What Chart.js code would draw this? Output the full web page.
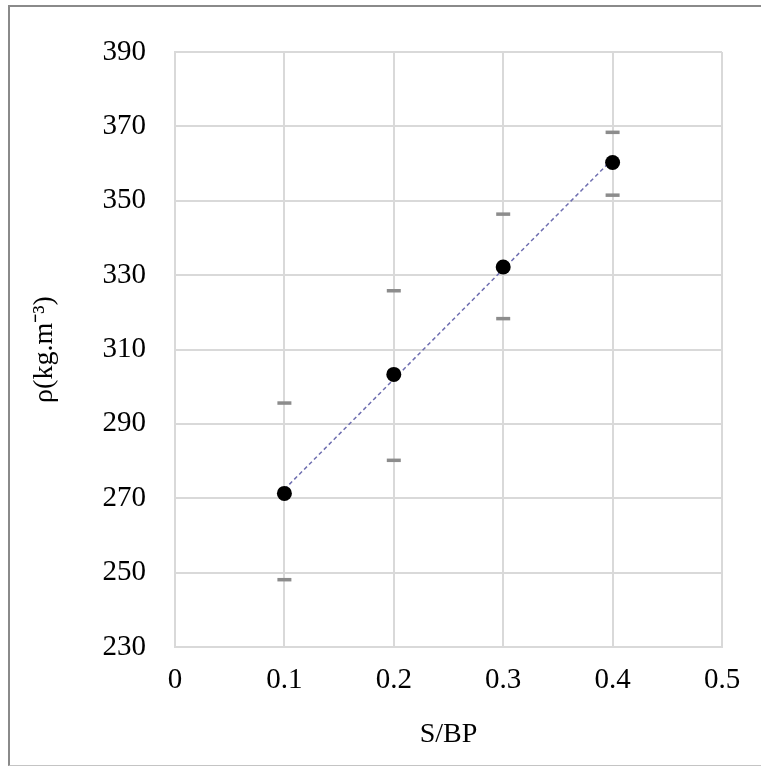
<!DOCTYPE html>
<html>
<head>
<meta charset="utf-8">
<script src="https://cdn.jsdelivr.net/npm/chart.js@4.4.0/dist/chart.umd.min.js"></script>
<style>
  html, body { margin: 0; padding: 0; background: #fff; }
  #wrap { position: relative; width: 761px; height: 766px; overflow: hidden; }
  #frame { position: absolute; left: 8px; top: 5px; width: 770px; height: 758px;
           border-left: 2px solid #8a8a8a; border-top: 2px solid #8a8a8a; border-bottom: 1px solid #c4c4c4; }
  canvas { position: absolute; left: 0; top: 0; }
</style>
</head>
<body>
<div id="wrap">
  <div id="frame"></div>
  <canvas id="c" width="761" height="766"></canvas>
</div>
<script>
// Data
const sbp = [0.1, 0.2, 0.3, 0.4];
const density = [271.3, 303.3, 332.2, 360.3];
const errUpper = [295.6, 325.8, 346.4, 368.4];
const errLower = [248.1, 280.2, 318.3, 351.5];
const trendX = [0.1, 0.4];
const trendY = [272.4, 361.2];
const xTickLabels = ['0', '0.1', '0.2', '0.3', '0.4', '0.5'];
const yTickLabels = ['230', '250', '270', '290', '310', '330', '350', '370', '390'];
const xTitle = 'S/BP';
const yTitle = 'ρ(kg.m⁻³)';

const pts = (xs, ys) => xs.map((x, i) => ({ x: x, y: ys[i] }));
const FONT = "'Liberation Serif', 'Times New Roman', serif";
const gridColor = '#d9d9d9';

new Chart(document.getElementById('c'), {
  type: 'scatter',
  data: {
    datasets: [
      { label: 'density', data: pts(sbp, density), order: 0,
        pointRadius: 7.5, pointHoverRadius: 7.5, backgroundColor: '#000', borderColor: '#000', borderWidth: 0 },
      { label: 'upper', data: pts(sbp, errUpper), order: 2,
        pointStyle: 'line', pointRadius: 7, pointHoverRadius: 7, borderColor: '#8c8c8c', borderWidth: 3.5 },
      { label: 'lower', data: pts(sbp, errLower), order: 2,
        pointStyle: 'line', pointRadius: 7, pointHoverRadius: 7, borderColor: '#8c8c8c', borderWidth: 3.5 },
      { type: 'line', label: 'trend', data: pts(trendX, trendY), order: 1,
        showLine: true, borderColor: '#6e6eb0', borderWidth: 1.5, borderDash: [4, 3],
        pointRadius: 0, fill: false }
    ]
  },
  options: {
    responsive: false,
    animation: false,
    events: [],
    layout: { padding: { left: 0, right: 39, top: 52, bottom: 0 } },
    plugins: { legend: { display: false }, tooltip: { enabled: false } },
    scales: {
      x: {
        type: 'linear', min: 0, max: 0.5,
        afterFit: (s) => { s.height = 119; },
        afterBuildTicks: (s) => { s.ticks = xTickLabels.map((t, i) => ({ value: i * 0.1 })); },
        ticks: { padding: 16, color: '#000', font: { family: FONT, size: 29 },
                 callback: (v, i) => xTickLabels[i] },
        grid: { color: gridColor, lineWidth: 2, drawTicks: false },
        border: { display: true, color: gridColor, width: 2 },
        title: { display: true, text: xTitle, color: '#000', font: { family: FONT, size: 28 },
                 padding: { top: 0, bottom: 15 } }
      },
      y: {
        type: 'linear', min: 230, max: 390,
        afterFit: (s) => { s.width = 175; },
        afterBuildTicks: (s) => { s.ticks = yTickLabels.map((t) => ({ value: Number(t) })); },
        ticks: { padding: 29, color: '#000', font: { family: FONT, size: 29 },
                 callback: (v, i) => yTickLabels[i] },
        grid: { color: gridColor, lineWidth: 2, drawTicks: false },
        border: { display: true, color: gridColor, width: 2 },
        title: { display: true, text: yTitle, color: '#000', font: { family: FONT, size: 28 },
                 padding: { top: 28, bottom: 0 } }
      }
    }
  }
});
</script>
</body>
</html>
